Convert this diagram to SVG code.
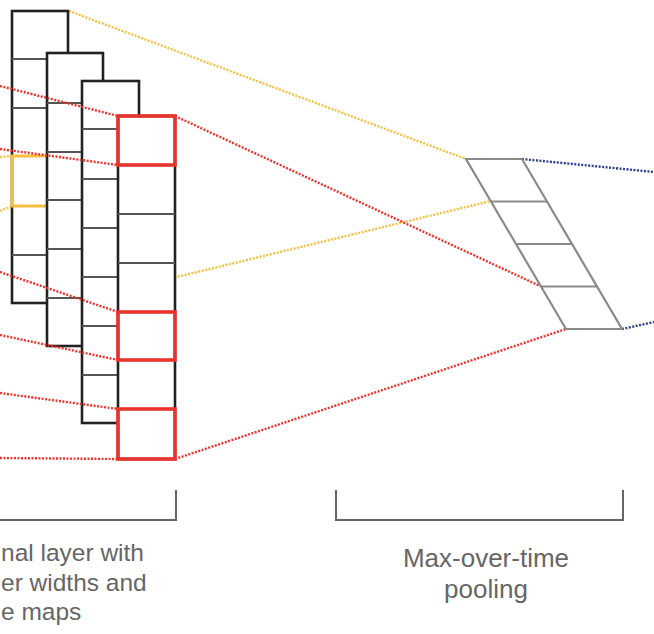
<svg xmlns="http://www.w3.org/2000/svg" width="654" height="634" viewBox="0 0 654 634">
<style>
.bg{fill:#ffffff}
.col{fill:#ffffff;stroke:#222;stroke-width:2.6}
.div{stroke:#555;stroke-width:2;fill:none}
.red{fill:none;stroke:#e8352b;stroke-width:3.6}
.ycell{fill:none;stroke:#f5c040;stroke-width:3}
.dot{fill:none;stroke-width:2.4;stroke-dasharray:2 1.5}
.dy{stroke:#f5c040}
.dr{stroke:#e8352b}
.db{stroke:#2c3e8c}
.pool{fill:none;stroke:#8a8a8a;stroke-width:2.2}
.brk{fill:none;stroke:#666;stroke-width:2}
.lbl{font-family:"Liberation Sans",Arial,sans-serif;font-size:26px;fill:#666}
.lbl2{font-family:"Liberation Sans",Arial,sans-serif;font-size:24.5px;fill:#666}
</style>
<rect class="bg" x="0" y="0" width="654" height="634"/>
<g id="connectors-back">
<line class="dot dy" x1="69" y1="11" x2="466" y2="159"/>
<line class="dot dy" x1="69" y1="303" x2="491" y2="201"/>
<line class="dot dy" x1="0" y1="157" x2="12" y2="156"/>
<line class="dot dy" x1="0" y1="211" x2="12" y2="206"/>
</g>
<g id="feature-map-1">
<rect class="col" x="12" y="11" width="56" height="292"/>
<path class="div" d="M12 59H68M12 108H68M12 156H68M12 206H68M12 255H68"/>
<rect class="ycell" x="12" y="156" width="56" height="50"/>
</g>
<g id="feature-map-2">
<rect class="col" x="47" y="53" width="56" height="293"/>
<path class="div" d="M47 103H103M47 152H103M47 200H103M47 249H103M47 298H103"/>
</g>
<g id="feature-map-3">
<rect class="col" x="82" y="81" width="57" height="342"/>
<path class="div" d="M82 129H139M82 179H139M82 228H139M82 277H139M82 326H139M82 375H139"/>
</g>
<g id="feature-map-4">
<rect class="col" x="118" y="116" width="57" height="343"/>
<path class="div" d="M118 165H175M118 214H175M118 263H175M118 312H175M118 360H175M118 409H175"/>
<rect class="red" x="118" y="116" width="57" height="49"/>
<rect class="red" x="118" y="312" width="57" height="48"/>
<rect class="red" x="118" y="409" width="57" height="50"/>
</g>
<g id="connectors">
<line class="dot dr" x1="0" y1="86" x2="118" y2="116"/>
<line class="dot dr" x1="0" y1="149" x2="118" y2="165"/>
<line class="dot dr" x1="0" y1="272" x2="118" y2="312"/>
<line class="dot dr" x1="0" y1="335" x2="118" y2="360"/>
<line class="dot dr" x1="0" y1="393" x2="118" y2="409"/>
<line class="dot dr" x1="0" y1="458" x2="118" y2="459"/>
<line class="dot dr" x1="175" y1="116" x2="540" y2="286"/>
<line class="dot dr" x1="175" y1="459" x2="566" y2="329"/>
<line class="dot db" x1="522" y1="159" x2="654" y2="172"/>
<line class="dot db" x1="622" y1="329" x2="654" y2="322"/>
</g>
<g id="pooling">
<path class="pool" d="M466 159H522L622 329H566Z"/>
<path class="pool" d="M491 201.5H547M516 244H572M541 286.5H597"/>
</g>
<g id="bracket-conv">
<path class="brk" d="M0 520H176V490"/>
<text class="lbl2" x="1" y="561">nal layer with</text>
<text class="lbl2" x="1" y="591">er widths and</text>
<text class="lbl2" x="1" y="620">e maps</text>
</g>
<g id="bracket-pool">
<path class="brk" d="M336 490V520H623V490"/>
<text class="lbl" x="486" y="567" text-anchor="middle">Max-over-time</text>
<text class="lbl" x="486" y="598" text-anchor="middle">pooling</text>
</g>
</svg>
